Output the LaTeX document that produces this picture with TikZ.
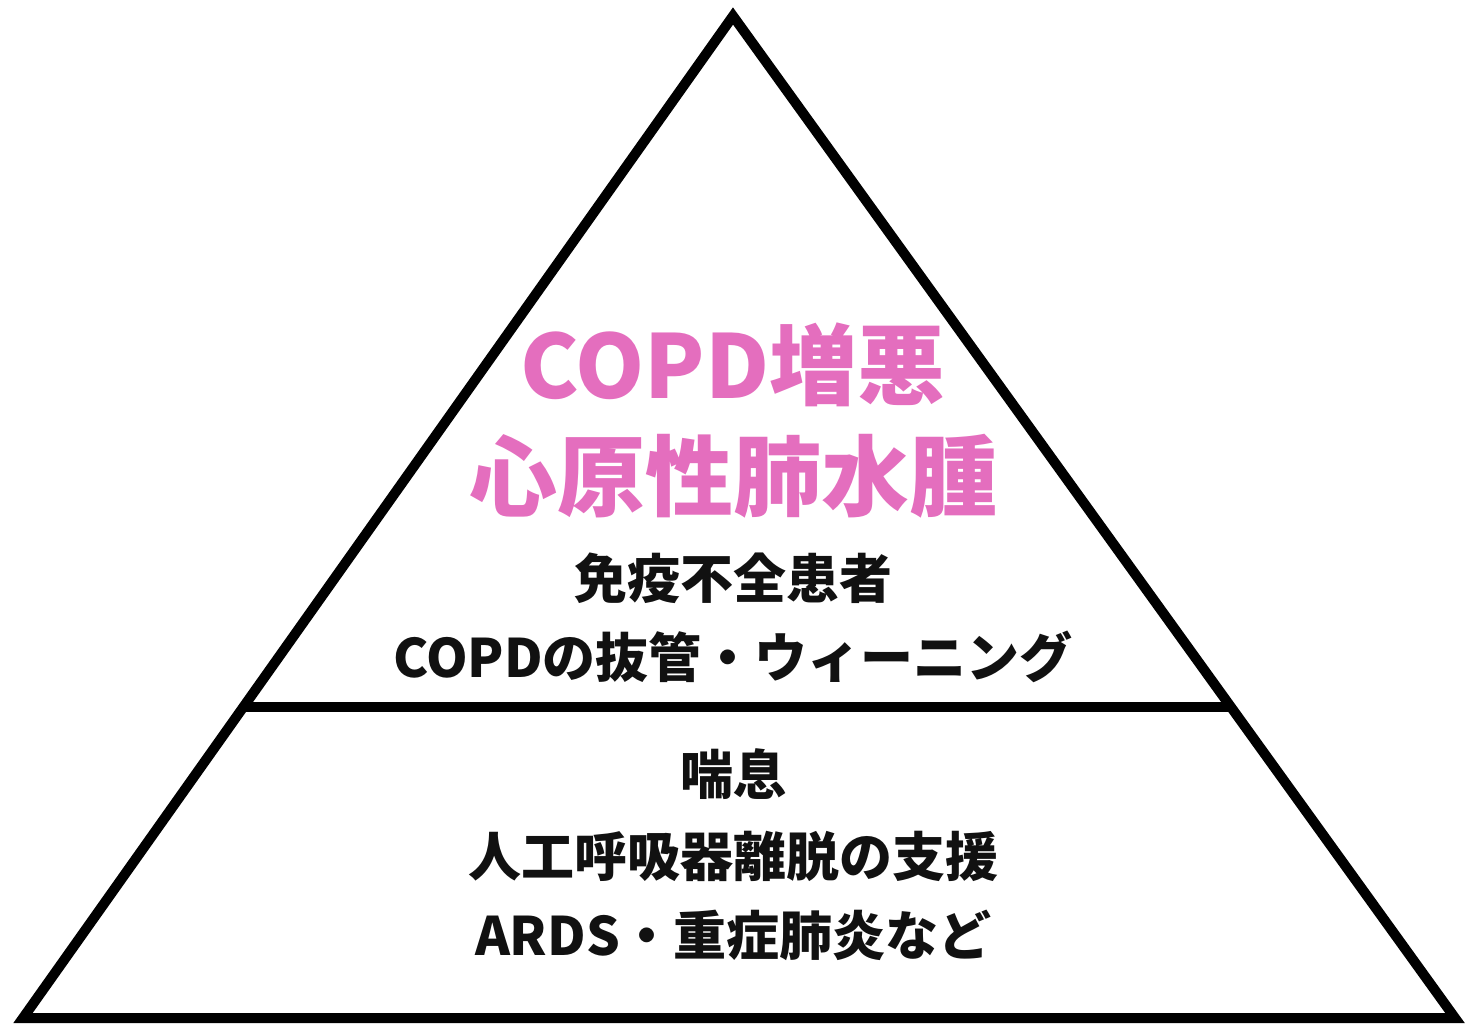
\documentclass[tikz,border=0pt]{standalone}
\usepackage{fontspec}
\newfontfamily\cjk{Noto Sans CJK JP}
\definecolor{pinkt}{RGB}{228,110,190}
\definecolor{textk}{RGB}{17,17,17}
\begin{document}
\begin{tikzpicture}[x=1pt,y=-1pt,
  outline/.style={line width=10pt,line join=miter,draw=black},
  bigt/.style={font=\cjk\bfseries\fontsize{88}{100}\selectfont,text=pinkt,anchor=base,inner sep=0pt},
  smallt/.style={font=\cjk\bfseries\fontsize{53}{60}\selectfont,text=textk,anchor=base,inner sep=0pt}]
\useasboundingbox (0,0) rectangle (1466,1023);
\coordinate (apex) at (733,16);
\coordinate (bl) at (23,1018);
\coordinate (br) at (1455,1018);
\coordinate (dl) at (243.4,707);
\coordinate (dr) at (1230.9,707);
\draw[outline] (apex) -- (br) -- (bl) -- cycle;
\draw[outline] (dl) -- (dr);
\node[bigt] (p1) at (733,398) {COPD増悪};
\node[bigt] (p2) at (733,509) {心原性肺水腫};
\node[smallt] (s1) at (733,598) {免疫不全患者};
\node[smallt] (s2) at (733,677) {COPDの抜管・ウィーニング};
\node[smallt] (s3) at (733,794) {喘息};
\node[smallt] (s4) at (733,876) {人工呼吸器離脱の支援};
\node[smallt] (s5) at (733,955) {ARDS・重症肺炎など};
\end{tikzpicture}
\end{document}
